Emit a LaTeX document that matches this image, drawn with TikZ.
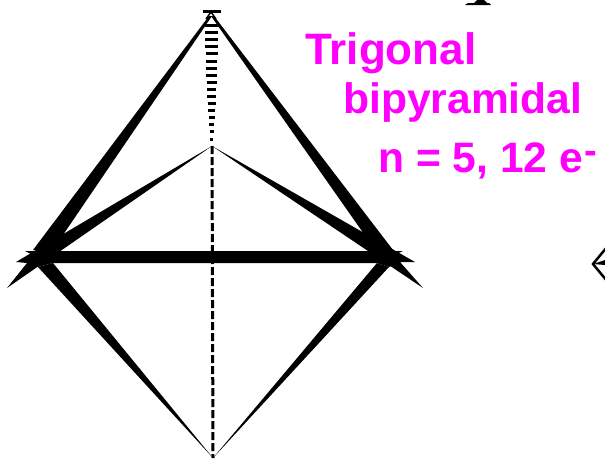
\documentclass[tikz,border=0pt]{standalone}
\usepackage{fontspec}
\setmainfont{Liberation Sans}
\usepackage{xcolor}
\definecolor{labelpink}{RGB}{255, 0, 255}
\tikzset{
  wedgebond/.style={fill=black, draw=none},
  hashbond/.style={black, line width=3pt},
  dashbond/.style={black, line width=3pt, dash pattern=on 8pt off 3pt},
  thinbond/.style={black, line width=1.5pt},
  shapelabel/.style={text=labelpink, font=\bfseries\fontsize{42.6}{44}\selectfont, anchor=base west, inner sep=0pt}
}
\begin{document}
\begin{tikzpicture}[x=1pt, y=-1pt]
  \useasboundingbox (0,0) rectangle (605,458);

  % Atoms
  \coordinate (apex) at (211,12);
  \coordinate (back) at (212,146);
  \coordinate (foot) at (213,458);

  % ---- Back axial bond ----
  \draw[dashbond] (back) -- (foot);

  % ---- Hashed wedge, apex to back ----
  \foreach \y/\w in {11/18,25/14,32/13.5,39/13,46/12.5,53/12,61/11.5,68/11,75/10.5,82/10,
                     89/9.5,96/8.5,103/8,110/7,117/6,124/5,131/4,139/3}{
    \draw[hashbond] (211.5-\w/2,\y) -- (211.5+\w/2,\y);
  }
  \draw[thinbond] (apex) -- (206,19);
  \draw[thinbond] (apex) -- (216,19);

  % ---- Wedges from the apex ----
  \fill[wedgebond] (209,16) -- (33,250) -- (50,254) -- (212,16) -- cycle;
  \fill[wedgebond] (214,16) -- (393,250) -- (378,254) -- (211,16) -- cycle;

  % ---- Wedges from the back atom ----
  \fill[wedgebond] (back) -- (16,262) -- (27,263) -- (7,288) -- cycle;
  \fill[wedgebond] (back) -- (415,262) -- (400,262) -- (423,288) -- cycle;

  % ---- Wedges from the foot ----
  \fill[wedgebond] (foot) -- (53,263) -- (38,267) -- cycle;
  \fill[wedgebond] (foot) -- (377,263) -- (389,267) -- cycle;

  % ---- Equatorial bar, with the joints at its ends ----
  \fill[wedgebond] (25,251) -- (403,251) -- (392,256) -- (400,262) -- (389,267) -- (377,263)
    -- (53,263) -- (38,267) -- (27,263) -- (33,255) -- cycle;

  % ---- Label ----
  \node[shapelabel, font=\bfseries\fontsize{44}{44}\selectfont] (name1) at (305,64) {Trigonal};
  \node[shapelabel] (name2) at (343,113) {bipyramidal};
  \node[shapelabel] (name3) at (378,172) {n = 5, 12 e\kern1pt\raisebox{9pt}{\fontsize{38}{38}\selectfont -}};

  % ---- Cut pieces at the edges ----
  \fill[wedgebond] (465,5) -- (468,3) -- (474,3) -- (477,0) -- (484,0) -- (487,3) -- (489,3) -- (491,5) -- cycle;
  \draw[thinbond, line width=2.5pt] (607,247) -- (593,264) -- (607,281);
  \fill[wedgebond] (593,264) -- (605,260) -- (605,265) -- cycle;
\end{tikzpicture}
\end{document}
